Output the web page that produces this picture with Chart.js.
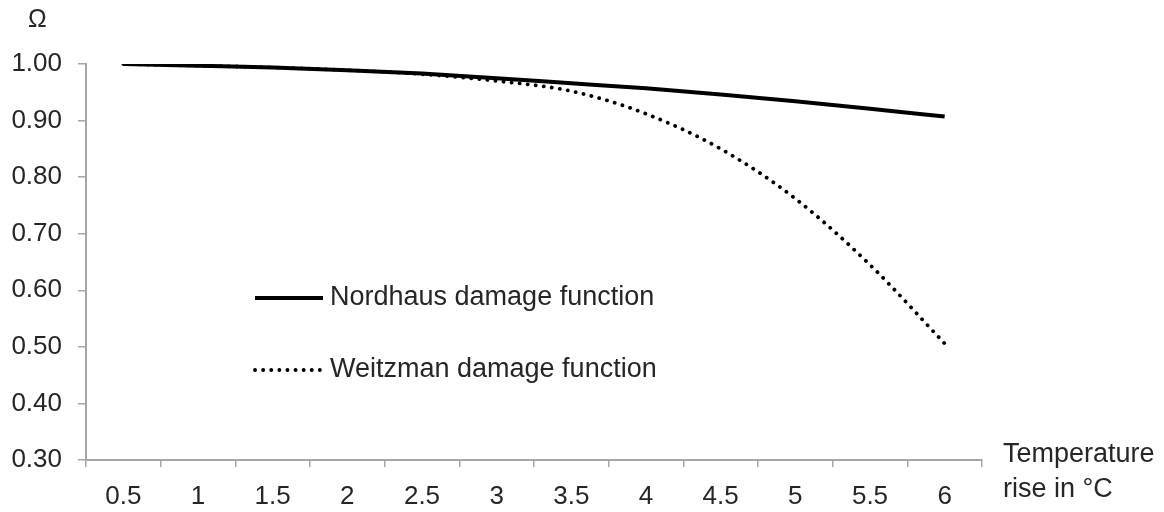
<!DOCTYPE html>
<html>
<head>
<meta charset="utf-8">
<script src="https://cdn.jsdelivr.net/npm/chart.js@4"></script>
<style>
  body { margin: 0; background: #fff; }
  #wrap { width: 1164px; height: 512px; }
</style>
</head>
<body>
<div id="wrap"><canvas id="damageChart" width="1164" height="512"></canvas></div>
<script>
// temperature rise categories
const temps = ['0.5', '1', '1.5', '2', '2.5', '3', '3.5', '4', '4.5', '5', '5.5', '6'];
const nordhaus = [1.000, 0.997, 0.994, 0.989, 0.983, 0.975, 0.966, 0.957, 0.946, 0.934, 0.921, 0.907];
const weitzman = [1.000, 0.997, 0.994, 0.989, 0.982, 0.970, 0.952, 0.912, 0.850, 0.762, 0.645, 0.506];
const yTicks = [0.3, 0.4, 0.5, 0.6, 0.7, 0.8, 0.9, 1.0];

const FONT = "'Liberation Sans', Arial, sans-serif";
const AXIS = '#a6a6a6';
const TEXT = '#262626';

// legend inside the plot + axis titles, drawn by hand like the Excel original
const annotations = {
  id: 'annotations',
  afterDraw(chart) {
    const { ctx, chartArea } = chart;
    ctx.save();
    ctx.fillStyle = TEXT;
    ctx.textBaseline = 'middle';
    ctx.textAlign = 'left';

    // Ω on top of the y axis
    ctx.font = '25px ' + FONT;
    ctx.fillText('\u03A9', 28, 20);

    // x axis title at the right end
    ctx.font = '27px ' + FONT;
    ctx.fillText('Temperature', chartArea.right + 21, 455);
    ctx.fillText('rise in \u00B0C', chartArea.right + 21, 490);

    // legend
    const x0 = chartArea.left + 169;
    const rows = [298, 370];
    chart.data.datasets.forEach((ds, i) => {
      const y = rows[i];
      ctx.beginPath();
      ctx.strokeStyle = ds.borderColor;
      ctx.lineWidth = ds.borderWidth;
      ctx.lineCap = ds.borderCapStyle || 'butt';
      ctx.setLineDash(ds.borderDash || []);
      ctx.moveTo(x0, y);
      ctx.lineTo(x0 + 68, y);
      ctx.stroke();
      ctx.setLineDash([]);
      ctx.fillText(ds.label, x0 + 75, y);
    });
    ctx.restore();
  }
};

new Chart(document.getElementById('damageChart').getContext('2d'), {
  type: 'line',
  data: {
    labels: temps,
    datasets: [{
      label: 'Nordhaus damage function',
      data: nordhaus,
      borderColor: '#000',
      borderWidth: 4,
      pointRadius: 0,
      cubicInterpolationMode: 'monotone',
      fill: false
    }, {
      label: 'Weitzman damage function',
      data: weitzman,
      borderColor: '#000',
      borderWidth: 3.8,
      borderCapStyle: 'round',
      borderDash: [0.1, 8],
      pointRadius: 0,
      cubicInterpolationMode: 'monotone',
      fill: false
    }]
  },
  options: {
    responsive: false,
    animation: false,
    layout: { padding: { top: 64, right: 182, left: 10, bottom: 0 } },
    plugins: {
      legend: { display: false },
      tooltip: { enabled: false }
    },
    scales: {
      x: {
        offset: true,
        afterFit: axis => { axis.height = 52; },
        grid: { offset: true, drawOnChartArea: false, color: AXIS, tickLength: 7, lineWidth: 1.5 },
        border: { color: AXIS, width: 2 },
        ticks: { color: TEXT, font: { family: FONT, size: 26 }, padding: 14, maxRotation: 0 }
      },
      y: {
        min: 0.3,
        max: 1.0,
        afterFit: axis => { axis.width = 76; },
        afterBuildTicks: axis => { axis.ticks = yTicks.map(v => ({ value: v })); },
        grid: { drawOnChartArea: false, color: AXIS, tickLength: 8, lineWidth: 1.5 },
        border: { color: AXIS, width: 2 },
        ticks: {
          color: TEXT,
          font: { family: FONT, size: 26 },
          padding: 16,
          callback: v => Number(v).toFixed(2)
        }
      }
    }
  },
  plugins: [annotations]
});
</script>
</body>
</html>
